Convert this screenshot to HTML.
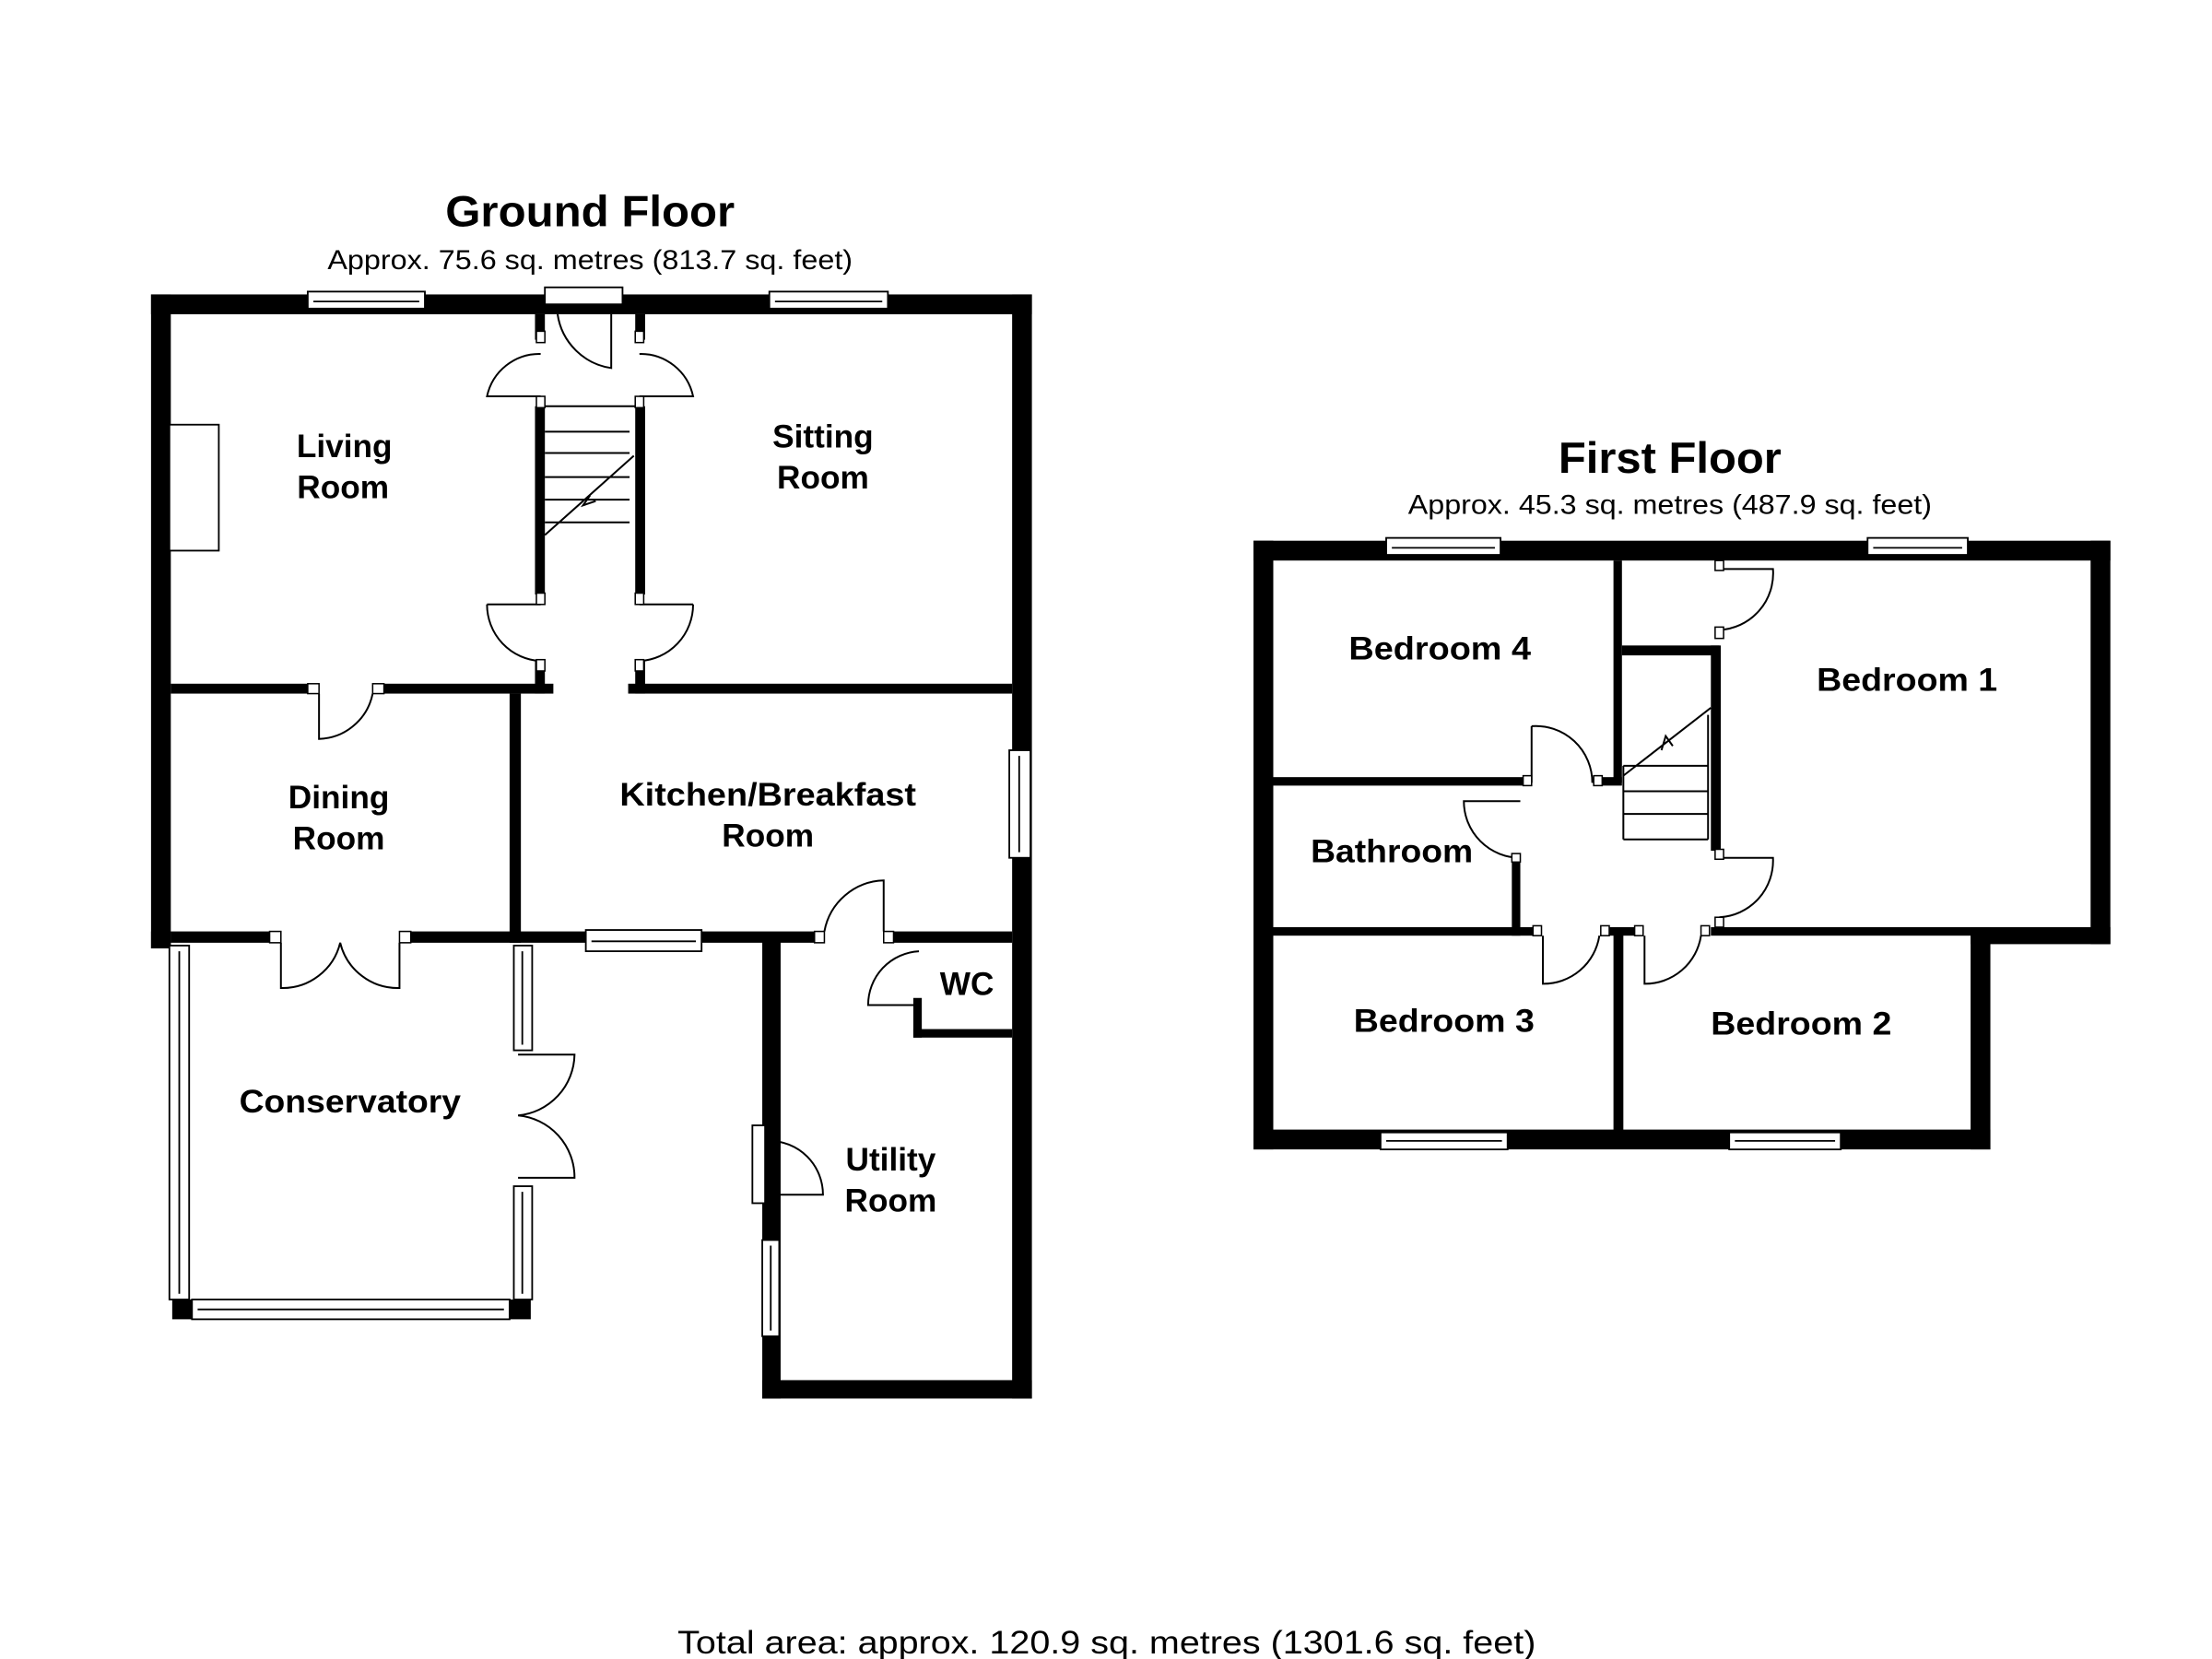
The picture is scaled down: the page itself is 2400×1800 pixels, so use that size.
<!DOCTYPE html>
<html><head><meta charset="utf-8"><style>
html,body{margin:0;padding:0;background:#fff;}
svg{display:block;}
text{font-family:"Liberation Sans",Arial,sans-serif;fill:#000;}
</style></head><body>
<svg width="2400" height="1800" viewBox="0 0 1567 1172" preserveAspectRatio="none" xmlns="http://www.w3.org/2000/svg">
<rect width="1600" height="1200" fill="#fff"/>
<g fill="#000">
<rect x="107" y="208" width="624" height="14"/>
<rect x="107" y="208" width="14" height="462"/>
<rect x="717" y="208" width="14" height="780"/>
<rect x="121" y="483" width="99" height="7"/>
<rect x="268" y="483" width="124" height="7"/>
<rect x="445" y="483" width="272" height="7"/>
<rect x="379" y="222" width="7" height="18"/>
<rect x="379" y="287" width="7" height="133"/>
<rect x="379" y="467" width="7" height="23"/>
<rect x="450" y="222" width="7" height="18"/>
<rect x="450" y="287" width="7" height="133"/>
<rect x="450" y="467" width="7" height="23"/>
<rect x="361" y="490" width="8" height="176"/>
<rect x="121" y="658" width="74" height="8"/>
<rect x="287" y="658" width="293" height="8"/>
<rect x="628" y="658" width="89" height="8"/>
<rect x="540" y="660" width="13" height="328"/>
<rect x="540" y="975" width="191" height="13"/>
<rect x="647" y="705" width="6" height="28"/>
<rect x="647" y="727" width="70" height="6"/>
<rect x="107" y="658" width="14" height="12"/>
<rect x="122" y="918" width="14" height="14"/>
<rect x="361" y="918" width="15" height="14"/>
<rect x="888" y="382" width="607" height="14"/>
<rect x="888" y="382" width="14" height="430"/>
<rect x="1481" y="382" width="14" height="285"/>
<rect x="1396" y="655" width="99" height="12"/>
<rect x="1396" y="655" width="14" height="157"/>
<rect x="888" y="798" width="522" height="14"/>
<rect x="1143" y="396" width="6" height="157"/>
<rect x="1149" y="456" width="69" height="7"/>
<rect x="1212" y="456" width="7" height="145"/>
<rect x="902" y="549" width="178" height="6"/>
<rect x="1130" y="549" width="19" height="6"/>
<rect x="1071" y="608" width="6" height="53"/>
<rect x="902" y="655" width="188" height="6"/>
<rect x="1137" y="655" width="23" height="6"/>
<rect x="1212" y="655" width="197" height="6"/>
<rect x="1143" y="655" width="7" height="145"/>
</g>
<g fill="#fff" stroke="#000" stroke-width="1.2">
<rect x="218" y="206" width="83" height="12"/><line x1="222" y1="213" x2="297" y2="213"/>
<rect x="545" y="206" width="84" height="12"/><line x1="549" y1="213" x2="625" y2="213"/>
<rect x="386" y="203" width="55" height="12"/>
<rect x="715" y="530" width="15" height="76"/><line x1="722" y1="534" x2="722" y2="602"/>
<rect x="415" y="657" width="82" height="15"/><line x1="419" y1="665" x2="493" y2="665"/>
<rect x="120" y="668" width="14" height="250"/><line x1="127" y1="672" x2="127" y2="914"/>
<rect x="136" y="918" width="225" height="14"/><line x1="140" y1="925" x2="357" y2="925"/>
<rect x="364" y="668" width="13" height="74"/><line x1="370" y1="672" x2="370" y2="738"/>
<rect x="364" y="838" width="13" height="80"/><line x1="370" y1="842" x2="370" y2="914"/>
<rect x="533" y="795" width="9" height="55"/>
<rect x="540" y="876" width="12" height="68"/><line x1="546" y1="880" x2="546" y2="940"/>
<rect x="120" y="300" width="35" height="89"/>
<rect x="982" y="380" width="81" height="12"/><line x1="986" y1="387" x2="1059" y2="387"/>
<rect x="1323" y="380" width="71" height="12"/><line x1="1327" y1="387" x2="1390" y2="387"/>
<rect x="978" y="800" width="90" height="12"/><line x1="982" y1="806" x2="1064" y2="806"/>
<rect x="1225" y="800" width="79" height="12"/><line x1="1229" y1="806" x2="1300" y2="806"/>
</g>
<g fill="none" stroke="#000" stroke-width="1.3">
<path d="M395 222 A45 45 0 0 0 433 260 V222"/>
<path d="M383 250 A38 38 0 0 0 345 280 H383"/>
<path d="M453 250 A38 38 0 0 1 491 280 H453"/>
<path d="M345 427 A40 40 0 0 0 383 467 M345 427 H383"/>
<path d="M491 427 A40 40 0 0 1 453 467 M491 427 H453"/>
<path d="M226 490 V522 A40 40 0 0 0 264 490"/>
<path d="M199 666 V698 A42 42 0 0 0 241 666 A42 42 0 0 0 283 698 V666"/>
<path d="M584 658 A44 44 0 0 1 626 622 V658"/>
<path d="M367 745 H407 A44 44 0 0 1 367 788 A44 44 0 0 1 407 832 H367"/>
<path d="M651 672 A38 38 0 0 0 615 710 H651"/>
<path d="M545 806 A38 38 0 0 1 583 844 H545"/>
<path d="M386 287 H450 M386 305 H446 M386 320 H446 M386 337 H446 M386 353 H446 M386 369 H446 M386 378 L449 322 M418 350 L413 357 L422 354"/>
<path d="M1218 402 H1256 A40 40 0 0 1 1218 445"/>
<path d="M1085 513 A40 40 0 0 1 1128 553 M1085 513 V553"/>
<path d="M1077 566 H1037 A40 40 0 0 0 1077 606"/>
<path d="M1218 606 H1256 A40 40 0 0 1 1218 648"/>
<path d="M1093 661 V695 A40 40 0 0 0 1133 661"/>
<path d="M1165 661 V695 A40 40 0 0 0 1205 661"/>
<path d="M1150 541 H1210 M1150 559 H1210 M1150 575 H1210 M1150 593 H1210 M1150 541 V593 M1150 548 L1212 500 M1210 505 V593 M1177 530 L1180 520 L1185 527"/>
</g>
<g fill="#fff" stroke="#000" stroke-width="1">
<rect x="380" y="234" width="6" height="8"/><rect x="450" y="234" width="6" height="8"/>
<rect x="380" y="280" width="6" height="8"/><rect x="450" y="280" width="6" height="8"/>
<rect x="380" y="419" width="6" height="8"/><rect x="450" y="419" width="6" height="8"/>
<rect x="380" y="466" width="6" height="8"/><rect x="450" y="466" width="6" height="8"/>
<rect x="218" y="483" width="8" height="7"/><rect x="264" y="483" width="8" height="7"/>
<rect x="191" y="658" width="8" height="8"/><rect x="283" y="658" width="8" height="8"/>
<rect x="577" y="658" width="7" height="8"/><rect x="626" y="658" width="7" height="8"/>
<rect x="1215" y="396" width="6" height="7"/><rect x="1215" y="443" width="6" height="8"/>
<rect x="1079" y="548" width="6" height="7"/><rect x="1129" y="548" width="6" height="7"/>
<rect x="1071" y="603" width="6" height="6"/><rect x="1215" y="600" width="6" height="7"/>
<rect x="1215" y="648" width="6" height="7"/><rect x="1086" y="654" width="6" height="7"/>
<rect x="1134" y="654" width="6" height="7"/><rect x="1158" y="654" width="6" height="7"/><rect x="1205" y="654" width="6" height="7"/>
</g>
<text x="418" y="160" text-anchor="middle" font-weight="bold" font-size="31" textLength="205" lengthAdjust="spacingAndGlyphs">Ground Floor</text>
<text x="418" y="190" text-anchor="middle" font-size="19" textLength="372" lengthAdjust="spacingAndGlyphs">Approx.  75.6 sq. metres (813.7 sq. feet)</text>
<text x="1183" y="334" text-anchor="middle" font-weight="bold" font-size="31" textLength="158" lengthAdjust="spacingAndGlyphs">First Floor</text>
<text x="1183" y="363" text-anchor="middle" font-size="19" textLength="371" lengthAdjust="spacingAndGlyphs">Approx.  45.3 sq. metres (487.9 sq. feet)</text>
<text x="784" y="1168" text-anchor="middle" font-size="23" textLength="608" lengthAdjust="spacingAndGlyphs">Total area: approx. 120.9 sq. metres (1301.6 sq. feet)</text>
<g text-anchor="middle" font-weight="bold" font-size="23">
<text x="244" y="323">Living</text><text x="243" y="352">Room</text>
<text x="583" y="316">Sitting</text><text x="583" y="345">Room</text>
<text x="240" y="571">Dining</text><text x="240" y="600">Room</text>
<text x="544" y="569" textLength="210" lengthAdjust="spacingAndGlyphs">Kitchen/Breakfast</text><text x="544" y="598">Room</text>
<text x="685" y="703">WC</text>
<text x="248" y="786" textLength="157" lengthAdjust="spacingAndGlyphs">Conservatory</text>
<text x="631" y="827">Utility</text><text x="631" y="856">Room</text>
<text x="1020" y="466" textLength="129" lengthAdjust="spacingAndGlyphs">Bedroom 4</text>
<text x="1351" y="488" textLength="128" lengthAdjust="spacingAndGlyphs">Bedroom 1</text>
<text x="986" y="609" textLength="115" lengthAdjust="spacingAndGlyphs">Bathroom</text>
<text x="1023" y="729" textLength="128" lengthAdjust="spacingAndGlyphs">Bedroom 3</text>
<text x="1276" y="731" textLength="128" lengthAdjust="spacingAndGlyphs">Bedroom 2</text>
</g>
</svg>
</body></html>
